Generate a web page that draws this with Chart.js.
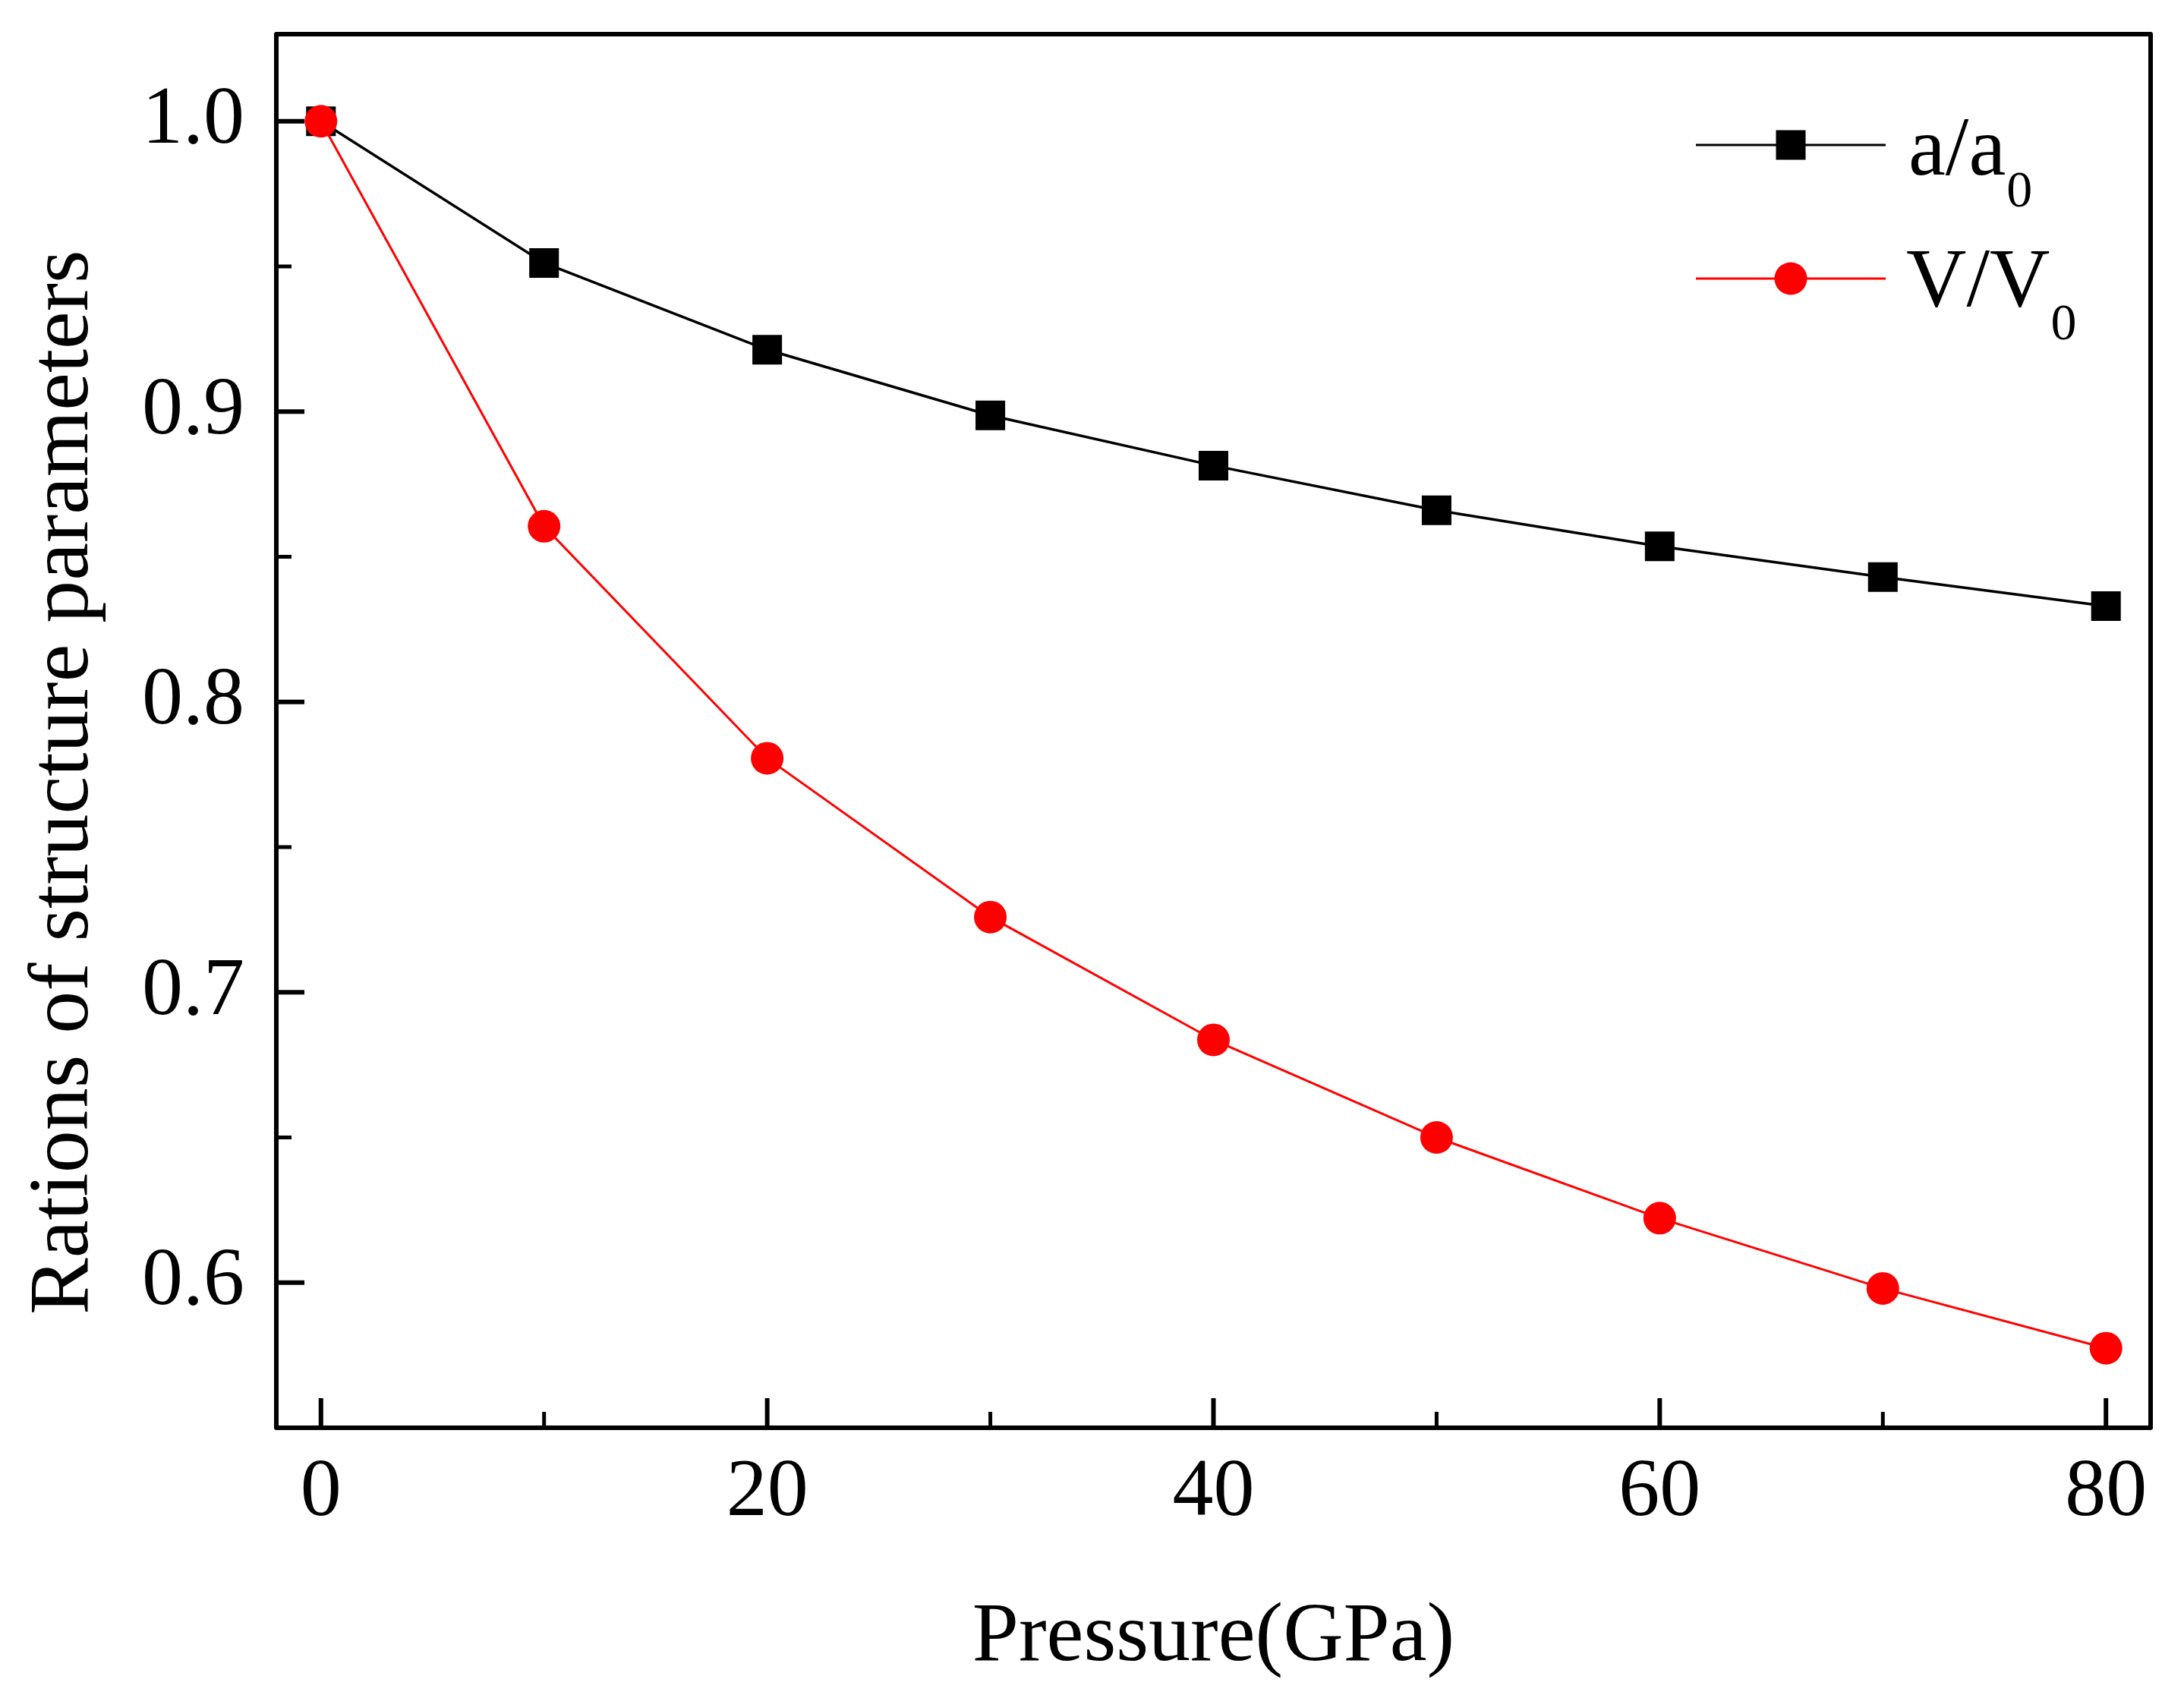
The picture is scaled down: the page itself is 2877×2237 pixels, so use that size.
<!DOCTYPE html>
<html>
<head>
<meta charset="utf-8">
<script src="https://cdn.jsdelivr.net/npm/chart.js@4"></script>
<style>
  html, body { margin: 0; padding: 0; background: #fff; }
  canvas { display: block; }
</style>
</head>
<body>
<canvas id="ratioChart" width="2877" height="2237"></canvas>
<script>
var pressure = [0, 10, 20, 30, 40, 50, 60, 70, 80];
var aRatio = [1.0, 0.9512, 0.9213, 0.8987, 0.8814, 0.8660, 0.8536, 0.8430, 0.8330];
var vRatio = [1.0, 0.8605, 0.7806, 0.7259, 0.6836, 0.6500, 0.6222, 0.5980, 0.5774];

var xTicks = [0, 20, 40, 60, 80];
var xMinorTicks = [10, 30, 50, 70];
var yTicks = [0.6, 0.7, 0.8, 0.9, 1.0];
var yMinorTicks = [0.65, 0.75, 0.85, 0.95];

var legendMain = ["a/a", "V/V"];
var legendSub = ["0", "0"];
var xTitle = "Pressure(GPa)";
var yTitle = "Rations of structure parameters";

var serif = "'Liberation Serif', 'Times New Roman', serif";

function toPoints(ys) {
  return pressure.map(function (p, i) { return { x: p, y: ys[i] }; });
}

// box, inward ticks, axis titles and the legend with subscripts
var framePlugin = {
  id: 'frame',
  afterDraw: function (chart) {
    var ctx = chart.ctx;
    var area = chart.chartArea;
    var xs = chart.scales.x;
    var ys = chart.scales.y;
    ctx.save();
    ctx.strokeStyle = '#000';
    ctx.lineCap = 'butt';

    ctx.lineWidth = 6;
    yTicks.forEach(function (v) {
      var py = ys.getPixelForValue(v);
      ctx.beginPath(); ctx.moveTo(area.left, py); ctx.lineTo(area.left + 37, py); ctx.stroke();
    });
    xTicks.forEach(function (v) {
      var px = xs.getPixelForValue(v);
      ctx.beginPath(); ctx.moveTo(px, area.bottom); ctx.lineTo(px, area.bottom - 39); ctx.stroke();
    });
    ctx.lineWidth = 5;
    yMinorTicks.forEach(function (v) {
      var py = ys.getPixelForValue(v);
      ctx.beginPath(); ctx.moveTo(area.left, py); ctx.lineTo(area.left + 20, py); ctx.stroke();
    });
    xMinorTicks.forEach(function (v) {
      var px = xs.getPixelForValue(v);
      ctx.beginPath(); ctx.moveTo(px, area.bottom); ctx.lineTo(px, area.bottom - 21); ctx.stroke();
    });

    ctx.lineWidth = 6;
    ctx.lineJoin = 'round';
    ctx.strokeRect(area.left, area.top, area.right - area.left, area.bottom - area.top);

    // axis titles
    ctx.fillStyle = '#000';
    ctx.font = '110px ' + serif;
    ctx.textAlign = 'center';
    ctx.textBaseline = 'alphabetic';
    ctx.fillText(xTitle, (area.left + area.right) / 2, 2187);

    ctx.save();
    ctx.translate(115, 1732);
    ctx.rotate(-Math.PI / 2);
    ctx.font = '112px ' + serif;
    ctx.textAlign = 'left';
    ctx.fillText(yTitle, 0, 0);
    ctx.restore();

    // legend
    var rows = [
      { y: 191, color: '#000', shape: 'rect', tx: 2514, base: 230, subBase: 272 },
      { y: 367, color: '#ff0000', shape: 'circle', tx: 2511, base: 403, subBase: 447 }
    ];
    rows.forEach(function (r, i) {
      ctx.strokeStyle = r.color;
      ctx.fillStyle = r.color;
      ctx.lineWidth = 3;
      ctx.beginPath(); ctx.moveTo(2234, r.y); ctx.lineTo(2484, r.y); ctx.stroke();
      if (r.shape === 'rect') {
        ctx.fillRect(2359 - 19.5, r.y - 19.5, 39, 39);
      } else {
        ctx.beginPath(); ctx.arc(2359, r.y, 21.5, 0, Math.PI * 2); ctx.fill();
      }
      ctx.fillStyle = '#000';
      ctx.textAlign = 'left';
      ctx.font = '110px ' + serif;
      ctx.fillText(legendMain[i], r.tx, r.base);
      var w = ctx.measureText(legendMain[i]).width;
      ctx.font = '68px ' + serif;
      ctx.fillText(legendSub[i], r.tx + w + 1, r.subBase);
    });
    ctx.restore();
  }
};

var ctx = document.getElementById("ratioChart").getContext('2d');
var ratioChart = new Chart(ctx, {
  type: 'line',
  data: {
    datasets: [{
      label: 'a/a\u2080',
      data: toPoints(aRatio),
      borderColor: '#000000',
      backgroundColor: '#000000',
      borderWidth: 3.5,
      pointStyle: 'rect',
      pointRadius: 27.6,
      pointBorderWidth: 0,
      tension: 0,
      order: 2
    }, {
      label: 'V/V\u2080',
      data: toPoints(vRatio),
      borderColor: '#ff0000',
      backgroundColor: '#ff0000',
      borderWidth: 3,
      pointStyle: 'circle',
      pointRadius: 21.5,
      pointBorderWidth: 0,
      tension: 0,
      order: 1
    }]
  },
  options: {
    responsive: false,
    animation: false,
    events: [],
    layout: { padding: { left: 0, top: 45, right: 44, bottom: 0 } },
    plugins: {
      legend: { display: false },
      tooltip: { enabled: false }
    },
    scales: {
      x: {
        type: 'linear',
        min: -2,
        max: 82,
        grid: { display: false, drawTicks: false },
        border: { display: false },
        afterBuildTicks: function (scale) {
          scale.ticks = xTicks.map(function (v) { return { value: v }; });
        },
        afterFit: function (scale) {
          scale.height = 356;
          scale.paddingLeft = 0;
          scale.paddingRight = 0;
        },
        ticks: {
          padding: 22,
          maxRotation: 0,
          color: '#000',
          font: { family: serif, size: 108 },
          callback: function (v) { return String(v); }
        }
      },
      y: {
        type: 'linear',
        min: 0.55,
        max: 1.03,
        grid: { display: false, drawTicks: false },
        border: { display: false },
        afterBuildTicks: function (scale) {
          scale.ticks = yTicks.map(function (v) { return { value: v }; });
        },
        afterFit: function (scale) {
          scale.width = 364;
          scale.paddingTop = 0;
          scale.paddingBottom = 0;
        },
        ticks: {
          padding: 42,
          color: '#000',
          font: { family: serif, size: 108 },
          callback: function (v) { return Number(v).toFixed(1); }
        }
      }
    }
  },
  plugins: [framePlugin]
});
</script>
</body>
</html>
